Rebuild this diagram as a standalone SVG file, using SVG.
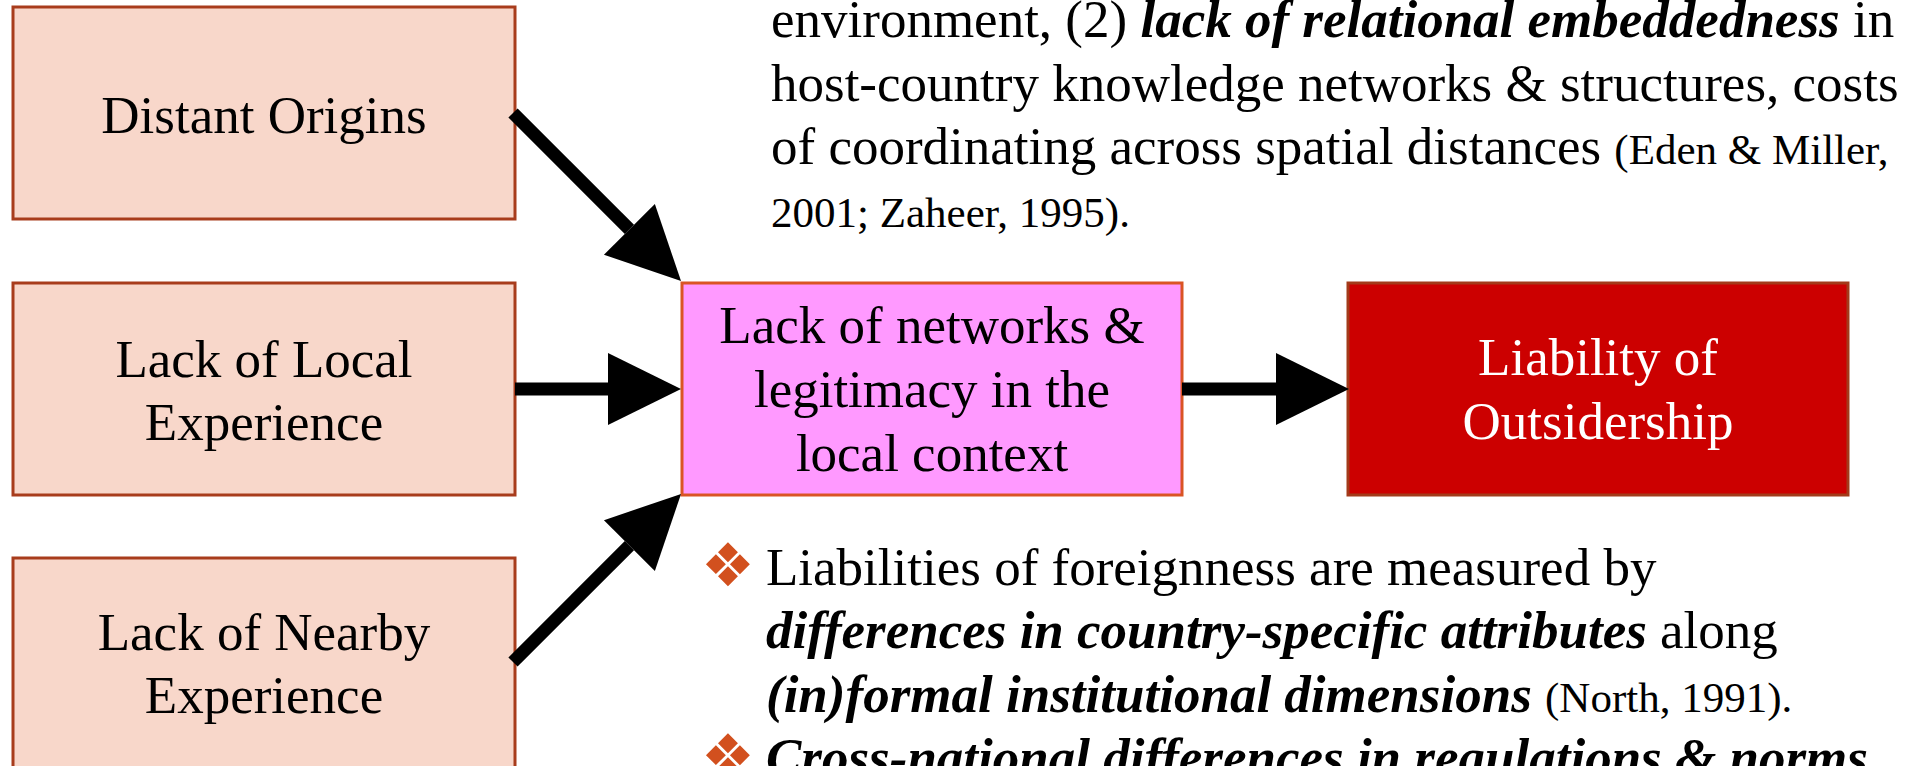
<svg xmlns="http://www.w3.org/2000/svg" width="1912" height="766" viewBox="0 0 1912 766">
<style>
.t{font-family:"Liberation Serif","Times New Roman",serif;font-size:53px;fill:#000}
.c{text-anchor:middle}
.bi{font-weight:bold;font-style:italic}
.cite{font-size:43px}
.src{fill:#F8D7CA;stroke:#A83C1C;stroke-width:3}
.mid{fill:#FF99FF;stroke:#DA5424;stroke-width:3}
.out{fill:#CC0000;stroke:#A33A1A;stroke-width:3}
.conn{stroke:#000;stroke-width:13;fill:none;marker-end:url(#ah)}
.bul{font-family:"DejaVu Sans",sans-serif;font-size:60px;fill:#D2501E}
</style>
<defs>
<marker id="ah" markerUnits="userSpaceOnUse" orient="auto" markerWidth="80" markerHeight="80" refX="0" refY="40" viewBox="0 0 80 80" overflow="visible">
<path d="M0,4 L73,40 L0,76 z" fill="#000"/>
</marker>
</defs>
<rect width="1912" height="766" fill="#fff"/>
<g id="n-distant">
<rect class="src" x="13" y="7" width="502" height="212"/>
<text class="t c" x="264" y="133">Distant Origins</text>
</g>
<g id="n-local">
<rect class="src" x="13" y="283" width="502" height="212"/>
<text class="t c" x="264" y="377">Lack of Local</text>
<text class="t c" x="264" y="440">Experience</text>
</g>
<g id="n-nearby">
<rect class="src" x="13" y="558" width="502" height="220"/>
<text class="t c" x="264" y="650">Lack of Nearby</text>
<text class="t c" x="264" y="713">Experience</text>
</g>
<g id="n-networks">
<rect class="mid" x="682" y="283" width="500" height="212"/>
<text class="t c" x="932" y="343">Lack of networks &amp;</text>
<text class="t c" x="932" y="407">legitimacy in the</text>
<text class="t c" x="932" y="471">local context</text>
</g>
<g id="n-outsidership">
<rect class="out" x="1348" y="283" width="500" height="212"/>
<text class="t c" x="1598" y="375" style="fill:#fff">Liability of</text>
<text class="t c" x="1598" y="439" style="fill:#fff">Outsidership</text>
</g>
<g id="connectors">
<line class="conn" x1="513" y1="113" x2="629.4" y2="229.4"/>
<line class="conn" x1="515" y1="389" x2="608" y2="389"/>
<line class="conn" x1="513" y1="662" x2="629.4" y2="545.6"/>
<line class="conn" x1="1182" y1="389" x2="1276" y2="389"/>
</g>
<g id="text-top">
<text class="t" x="771" y="37">environment, (2) <tspan class="bi">lack of relational embeddedness</tspan> in</text>
<text class="t" x="771" y="101">host-country knowledge networks &amp; structures, costs</text>
<text class="t" x="771" y="164">of coordinating across spatial distances <tspan class="cite">(Eden &amp; Miller,</tspan></text>
<text class="t cite" x="771" y="227">2001; Zaheer, 1995).</text>
</g>
<g id="text-bullets">
<text class="bul" x="701" y="586">❖</text>
<text class="t" x="766" y="585">Liabilities of foreignness are measured by</text>
<text class="t" x="766" y="648"><tspan class="bi">differences in country-specific attributes</tspan> along</text>
<text class="t" x="766" y="712"><tspan class="bi">(in)formal institutional dimensions</tspan> <tspan class="cite">(North, 1991).</tspan></text>
<text class="bul" x="701" y="777">❖</text>
<text class="t" x="766" y="775"><tspan class="bi">Cross-national differences in regulations &amp; norms</tspan></text>
</g>
</svg>
